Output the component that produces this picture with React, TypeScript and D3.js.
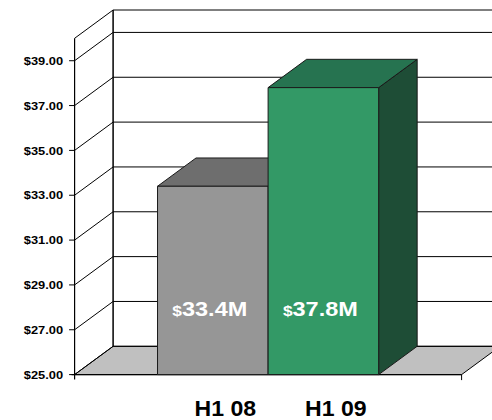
import React from "react";
import * as d3 from "d3";

const series = ["H1 08", "H1 09"];
const values = [33.4, 37.8];
const valueLabels = ["33.4M", "37.8M"];
const yTicks = [25, 27, 29, 31, 33, 35, 37, 39];
const gridValues = [25, 27, 29, 31, 33, 35, 37, 39, 40];

const W = 492;
const H = 420;
const DX = 38.5;
const DY = -28.3;
const FONT = "'Liberation Sans', Arial, Helvetica, sans-serif";

const faceColors = [
  { front: "#969696", top: "#6e6e6e", side: "#5a5a5a" },
  { front: "#339966", top: "#267350", side: "#1e4d36" },
];

export default function App() {
  const y = d3.scaleLinear().domain([25, 40]).range([374.6, 38.3]);
  const x0 = 74.6;
  const x1 = 461.6;
  const x = d3.scaleBand<string>().domain(series).range([x0, x1]).paddingInner(0).paddingOuter(0.75);
  const bw = x.bandwidth();
  const yBase = y(25);
  const yTop = y(40);
  const pts = (arr: number[][]) => arr.map((p) => p.join(",")).join(" ");

  return (
    <div style={{ position: "absolute", left: 0, top: 0 }}>
      <svg width={W} height={H} style={{ display: "block", background: "#fff" }} fontFamily={FONT}>
        {/* floor */}
        <polygon
          points={pts([
            [x0, yBase],
            [x0 + DX, yBase + DY],
            [x1 + DX, yBase + DY],
            [x1, yBase],
          ])}
          fill="#c0c0c0"
          stroke="#000"
          strokeWidth={1}
        />
        {/* back wall gridlines */}
        {gridValues.map((v) => (
          <line key={"g" + v} x1={x0 + DX} x2={x1 + DX} y1={y(v) + DY} y2={y(v) + DY} stroke="#000" strokeWidth={1} />
        ))}
        {/* side wall diagonals */}
        {gridValues.map((v) => (
          <line key={"d" + v} x1={x0} x2={x0 + DX} y1={y(v)} y2={y(v) + DY} stroke="#000" strokeWidth={1} />
        ))}
        {/* back wall left edge */}
        <line x1={x0 + DX} x2={x0 + DX} y1={yTop + DY} y2={yBase + DY} stroke="#000" strokeWidth={1.5} />
        {/* front axis */}
        <line x1={x0} x2={x0} y1={yTop} y2={yBase + 5} stroke="#000" strokeWidth={1.2} />
        {yTicks.map((v) => (
          <g key={"t" + v}>
            <line x1={x0 - 5.5} x2={x0} y1={y(v)} y2={y(v)} stroke="#000" strokeWidth={1} />
            <text
              transform={`translate(${x0 - 11.5},${y(v) + 4.1}) scale(1.12,1)`}
              textAnchor="end"
              fontSize={11.5}
              fontWeight="bold"
              fill="#000"
            >
              {"$" + v.toFixed(2)}
            </text>
          </g>
        ))}
        {/* floor front edge + tick */}
        <line x1={x0 - 3} x2={x1} y1={yBase} y2={yBase} stroke="#000" strokeWidth={1.2} />
        <line x1={x1} x2={x1} y1={yBase} y2={yBase + 5.5} stroke="#000" strokeWidth={1} />
        {/* bars */}
        {series.map((s, i) => {
          const bx = x(s)!;
          const by = y(values[i]);
          const c = faceColors[i];
          return (
            <g key={s} stroke="#1a1a1a" strokeWidth={1} strokeLinejoin="round">
              <polygon
                points={pts([
                  [bx + bw, by],
                  [bx + bw + DX, by + DY],
                  [bx + bw + DX, yBase + DY],
                  [bx + bw, yBase],
                ])}
                fill={c.side}
              />
              <polygon
                points={pts([
                  [bx, by],
                  [bx + DX, by + DY],
                  [bx + bw + DX, by + DY],
                  [bx + bw, by],
                ])}
                fill={c.top}
              />
              <rect x={bx} y={by} width={bw} height={yBase - by} fill={c.front} />
            </g>
          );
        })}
        {/* value labels */}
        {series.map((s, i) => (
          <text
            key={"v" + s}
            transform={`translate(${x(s)! + bw / 2 - 3},316) scale(1.12,1)`}
            textAnchor="middle"
            fontWeight="bold"
            fill="#fff"
            fontSize={21}
          >
            <tspan fontSize={15.5}>$</tspan>
            {valueLabels[i]}
          </text>
        ))}
        {/* category labels */}
        {series.map((s) => (
          <text
            key={"c" + s}
            transform={`translate(${x(s)! + bw / 2 + 12.5},415.7) scale(1.05,1)`}
            textAnchor="middle"
            fontWeight="bold"
            fill="#000"
            fontSize={22}
          >
            {s}
          </text>
        ))}
      </svg>
    </div>
  );
}
